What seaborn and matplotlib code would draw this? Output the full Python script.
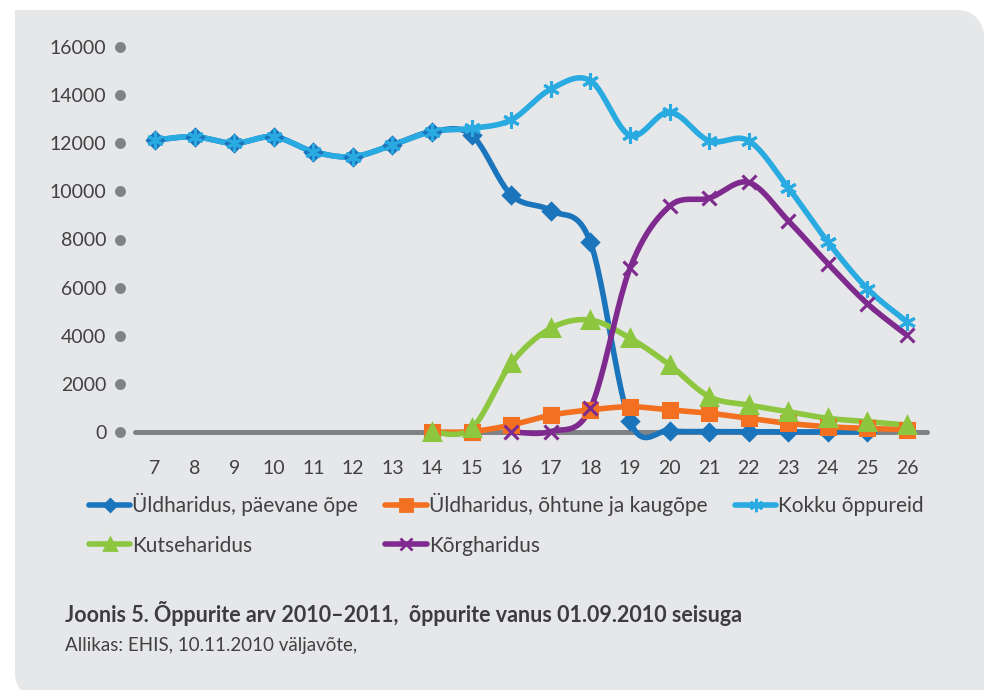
import numpy as np
import pandas as pd
import seaborn as sns
import matplotlib.pyplot as plt
import matplotlib.transforms as mtransforms
from matplotlib.lines import Line2D
from matplotlib.patches import PathPatch
from matplotlib.path import Path

# Data (ages and counts)
ages = list(range(7, 27))
kokku = [12130, 12270, 12000, 12270, 11650, 11440, 11930, 12480, 12620, 12970,
         14250, 14600, 12330, 13300, 12100, 12100, 10150, 7900, 5950, 4580]
paevane_ages = list(range(7, 26))
paevane = [12130, 12270, 12000, 12270, 11650, 11440, 11930, 12480, 12340, 9850,
           9200, 7890, 450, 60, 20, 10, 5, 5, 5]
ohtune_ages = list(range(14, 27))
ohtune = [0, 20, 290, 700, 920, 1050, 920, 780, 570, 360, 220, 150, 100]
kutse_ages = list(range(14, 27))
kutse = [0, 150, 2850, 4310, 4650, 3900, 2790, 1470, 1120, 845, 570, 430, 290]
korg_ages = list(range(16, 27))
korg = [0, 20, 985, 6800, 9380, 9720, 10370, 8780, 7000, 5330, 4020]
yticks = list(range(0, 16001, 2000))

series = [
    ("Üldharidus, päevane õpe", paevane_ages, paevane, "#1b75bc", "D", 8),
    ("Üldharidus, õhtune ja kaugõpe", ohtune_ages, ohtune, "#f37021", "s", 10),
    ("Kokku õppureid", ages, kokku, "#29abe2", (6, 2, 0), 12),
    ("Kutseharidus", kutse_ages, kutse, "#8dc63f", "^", 11),
    ("Kõrgharidus", korg_ages, korg, "#7f2a8f", "x", 10),
]

W, H = 985, 690
BG = "#e6e7e8"
GREY = "#808285"
TEXT = "#414042"


def smooth(x, y, n=24):
    # Excel-style smoothed line (Catmull-Rom / Bezier through the points)
    x = np.asarray(x, float)
    y = np.asarray(y, float)
    px = np.concatenate([[x[0]], x, [x[-1]]])
    py = np.concatenate([[y[0]], y, [y[-1]]])
    xs, ys = [], []
    t = np.linspace(0, 1, n)
    for i in range(1, len(px) - 2):
        p0 = np.array([px[i], py[i]])
        p3 = np.array([px[i + 1], py[i + 1]])
        p1 = p0 + (np.array([px[i + 1], py[i + 1]]) - np.array([px[i - 1], py[i - 1]])) / 6
        p2 = p3 - (np.array([px[i + 2], py[i + 2]]) - np.array([px[i], py[i]])) / 6
        b = ((1 - t) ** 3)[:, None] * p0 + (3 * (1 - t) ** 2 * t)[:, None] * p1 \
            + (3 * (1 - t) * t ** 2)[:, None] * p2 + (t ** 3)[:, None] * p3
        xs.extend(b[:, 0])
        ys.extend(b[:, 1])
    return xs, ys


sns.set_theme(style="white")
plt.rcParams["font.family"] = ["Lato", "DejaVu Sans"]

fig = plt.figure(figsize=(W / 100, H / 100), dpi=100)
fig.patch.set_facecolor("white")

# grey panel with two rounded corners (top-right, bottom-left), pixel coords
L, T, R, B, r = 15, 10, 984, 700, 26
ang = np.linspace(0, np.pi / 2, 12)
pts = [(L, T), (R - r, T)]
pts += [(R - r + r * np.sin(a), T + r - r * np.cos(a)) for a in ang]
pts += [(R, B), (L + r, B)]
pts += [(L + r - r * np.sin(a), B - r + r * np.cos(a)) for a in ang]
pts += [(L, T)]
verts = [(px / W, 1 - py / H) for px, py in pts]
fig.patches.append(PathPatch(Path(verts), transform=fig.transFigure,
                             facecolor=BG, edgecolor="none", zorder=-10))

# axes placement: age 7 at x=155, 39.58 px per year; 0 at y=432, 16000 at y=47
xpx = 39.58
ypx = (432 - 47) / 16000
x0, x1 = 6.12, 26.6
y0, y1 = -600, 16600
left = 155 - (7 - x0) * xpx
right = 155 + (x1 - 7) * xpx
bottom = 432 - (y0 - 0) * ypx
top = 432 - y1 * ypx
ax = fig.add_axes([left / W, 1 - bottom / H, (right - left) / W, (bottom - top) / H])
ax.set_facecolor("none")
ax.set_zorder(2)

for name, xs, ys, col, mk, ms in series:
    sx, sy = smooth(xs, ys)
    df = pd.DataFrame({"age": sx, "n": sy})
    sns.lineplot(data=df, x="age", y="n", sort=False, color=col, lw=4, ax=ax,
                 solid_capstyle="round", zorder=3)
    ax.plot(xs, ys, ls="none", marker=mk, ms=ms, color=col, mec=col, mew=2.2,
            zorder=4, clip_on=False)

ax.set_xlim(x0, x1)
ax.set_ylim(y0, y1)
ax.set_xlabel("")
ax.set_ylabel("")
for s in ["top", "right", "left"]:
    ax.spines[s].set_visible(False)
ax.spines["bottom"].set_position(("data", 0))
ax.spines["bottom"].set_bounds(6.5, 26.5)
ax.spines["bottom"].set_color(GREY)
ax.spines["bottom"].set_linewidth(3.6)
ax.spines["bottom"].set_capstyle("round")
ax.spines["bottom"].set_zorder(1)

ax.set_xticks(ages)
ax.set_xticklabels([str(a) for a in ages])
ax.set_yticks(yticks)
ax.tick_params(axis="x", length=0, pad=20, labelsize=14, labelcolor=TEXT)
ax.tick_params(axis="y", length=0, pad=10, labelsize=14, labelcolor=TEXT)

# round grey dots as y tick marks
trans = mtransforms.blended_transform_factory(ax.transAxes, ax.transData)
ax.scatter([0] * len(yticks), yticks, s=62, color=GREY, transform=trans,
           clip_on=False, zorder=2, linewidths=0)

# legend, row by row
order = [0, 3, 1, 4, 2]
handles = []
for i in order:
    name, xs, ys, col, mk, ms = series[i]
    handles.append(Line2D([], [], color=col, lw=4, marker=mk, ms=ms * 0.8,
                          mec=col, mew=2, label=name))
fig.legend(handles=handles, ncol=3, loc="upper left",
           bbox_to_anchor=(70 / W, 1 - 474 / H), frameon=False, fontsize=15,
           handlelength=2.0, handletextpad=0.1, columnspacing=1.3,
           labelspacing=0.95, labelcolor=TEXT)

fig.text(65 / W, 1 - 614 / H,
         "Joonis 5. Õppurite arv 2010–2011,  õppurite vanus 01.09.2010 seisuga",
         fontsize=15.5, fontweight="bold", color="#3d3d3f", va="center")
fig.text(65 / W, 1 - 646 / H, "Allikas: EHIS, 10.11.2010 väljavõte,",
         fontsize=13.5, color=TEXT, va="center")

fig.savefig("out.png", dpi=100, facecolor="white")
